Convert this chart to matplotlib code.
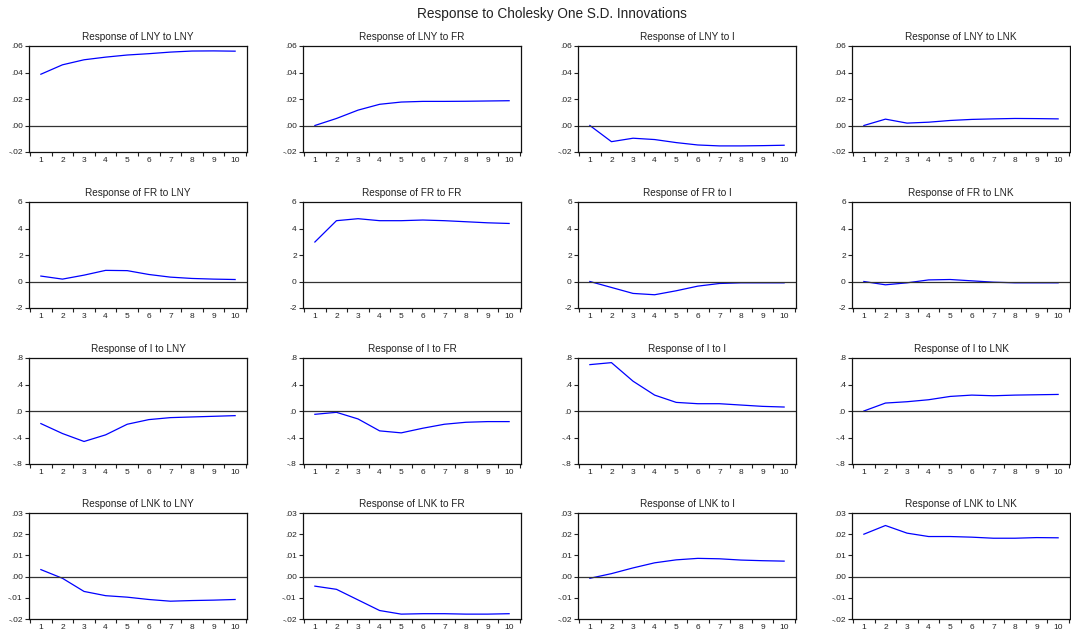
import matplotlib
matplotlib.use("Agg")
import matplotlib.pyplot as plt

plt.rcParams['font.family'] = ['Liberation Sans', 'DejaVu Sans']

periods = list(range(1, 11))
variables = ["LNY", "FR", "I", "LNK"]

# Impulse responses: responses[row variable][shock variable]
lny_to_lny = [0.0387, 0.0458, 0.0496, 0.0516, 0.0532, 0.0542, 0.0554, 0.0562, 0.0563, 0.0561]
lny_to_fr = [0.0000, 0.0053, 0.0116, 0.0160, 0.0177, 0.0182, 0.0182, 0.0183, 0.0185, 0.0187]
lny_to_i = [0.0000, -0.0122, -0.0096, -0.0106, -0.0129, -0.0147, -0.0154, -0.0154, -0.0152, -0.0149]
lny_to_lnk = [0.0000, 0.0048, 0.0018, 0.0025, 0.0038, 0.0046, 0.0050, 0.0053, 0.0052, 0.0050]

fr_to_lny = [0.41, 0.18, 0.48, 0.84, 0.82, 0.53, 0.33, 0.23, 0.18, 0.15]
fr_to_fr = [2.98, 4.59, 4.74, 4.59, 4.59, 4.64, 4.59, 4.51, 4.43, 4.38]
fr_to_i = [0.00, -0.45, -0.90, -1.00, -0.70, -0.35, -0.15, -0.10, -0.10, -0.10]
fr_to_lnk = [0.00, -0.25, -0.10, 0.12, 0.15, 0.05, -0.05, -0.10, -0.10, -0.10]

i_to_lny = [-0.19, -0.34, -0.46, -0.36, -0.20, -0.13, -0.10, -0.09, -0.08, -0.07]
i_to_fr = [-0.05, -0.02, -0.12, -0.30, -0.33, -0.26, -0.20, -0.17, -0.16, -0.16]
i_to_i = [0.70, 0.73, 0.45, 0.24, 0.13, 0.11, 0.11, 0.09, 0.07, 0.06]
i_to_lnk = [0.00, 0.12, 0.14, 0.17, 0.22, 0.24, 0.23, 0.24, 0.245, 0.25]

lnk_to_lny = [0.0033, -0.0008, -0.0070, -0.0090, -0.0097, -0.0108, -0.0116, -0.0113, -0.0111, -0.0108]
lnk_to_fr = [-0.0045, -0.0060, -0.0110, -0.0160, -0.0177, -0.0175, -0.0175, -0.0177, -0.0177, -0.0175]
lnk_to_i = [-0.0008, 0.0014, 0.0041, 0.0065, 0.0079, 0.0086, 0.0084, 0.0078, 0.0075, 0.0073]
lnk_to_lnk = [0.0200, 0.0241, 0.0205, 0.0189, 0.0189, 0.0186, 0.0181, 0.0181, 0.0184, 0.0183]

responses = [
    [lny_to_lny, lny_to_fr, lny_to_i, lny_to_lnk],
    [fr_to_lny, fr_to_fr, fr_to_i, fr_to_lnk],
    [i_to_lny, i_to_fr, i_to_i, i_to_lnk],
    [lnk_to_lny, lnk_to_fr, lnk_to_i, lnk_to_lnk],
]

# y-axis scale per responding variable
y_ticks = [
    [-0.02, 0.00, 0.02, 0.04, 0.06],
    [-2, 0, 2, 4, 6],
    [-0.8, -0.4, 0.0, 0.4, 0.8],
    [-0.02, -0.01, 0.00, 0.01, 0.02, 0.03],
]
y_labels = [
    ["-.02", ".00", ".02", ".04", ".06"],
    ["-2", "0", "2", "4", "6"],
    ["-.8", "-.4", ".0", ".4", ".8"],
    ["-.02", "-.01", ".00", ".01", ".02", ".03"],
]

W, H = 1071, 630
fig = plt.figure(figsize=(W / 100, H / 100), dpi=100)
fig.patch.set_facecolor("white")

col_left = [29, 303, 578, 852]
row_top = [46, 202, 358, 513]
ax_w, ax_h = 218, 106

fig.text(552 / W, 1 - 14 / H, "Response to Cholesky One S.D. Innovations",
         ha="center", va="center", fontsize=9.8, color="#222222")

for r in range(4):
    for c in range(4):
        ax = fig.add_axes([col_left[c] / W, 1 - (row_top[r] + ax_h) / H, ax_w / W, ax_h / H])
        ax.plot(periods, responses[r][c], color="#0000ff", lw=0.9)
        ax.axhline(0, color="#333333", lw=0.9)
        ax.set_xlim(0.45, 10.55)
        ax.set_ylim(y_ticks[r][0], y_ticks[r][-1])
        ax.set_yticks(y_ticks[r])
        ax.set_yticklabels(y_labels[r])
        ax.set_xticks(periods)
        ax.set_xticklabels([str(p) for p in periods])
        ax.set_xticks([p + 0.5 for p in range(0, 11)], minor=True)
        ax.tick_params(axis="x", which="major", length=0, labelsize=6, pad=3.5, colors="#222222")
        ax.tick_params(axis="x", which="minor", length=3, width=0.8, direction="out", color="#222222")
        ax.tick_params(axis="y", which="major", length=3, width=0.8, direction="out",
                       labelsize=6, pad=1.5, colors="#222222")
        for sp in ax.spines.values():
            sp.set_linewidth(0.9)
            sp.set_color("#111111")
        ax.set_title(f"Response of {variables[r]} to {variables[c]}", fontsize=7.2,
                     pad=4, color="#222222")

fig.savefig("out.png", dpi=100, facecolor="white")
